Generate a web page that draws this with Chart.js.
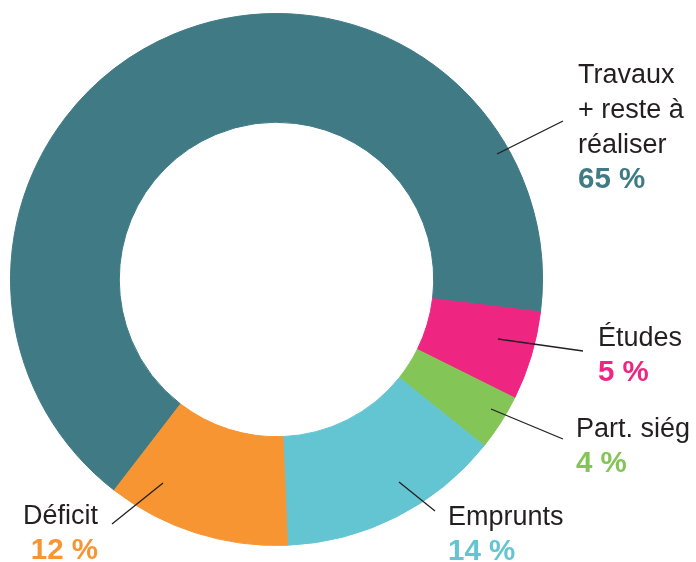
<!DOCTYPE html>
<html lang="fr">
<head>
    <meta charset="UTF-8">
    <title>Répartition du financement</title>
    <script src="https://cdn.jsdelivr.net/npm/chart.js"></script>
    <style>
        html, body { margin: 0; padding: 0; background: #fff; }
        .chart-wrapper { width: 696px; height: 562px; }
    </style>
</head>
<body>
    <div class="chart-wrapper">
        <canvas id="donutChart" width="696" height="562"></canvas>
    </div>

    <script>
        // données
        const categories = ['Travaux + reste à réaliser', 'Études', 'Part. siég', 'Emprunts', 'Déficit'];
        const shares = [66.5, 5.4, 3.4, 13.6, 11.1];
        const shareLabels = ['65 %', '5 %', '4 %', '14 %', '12 %'];
        const colors = ['#3f7a85', '#ee2682', '#84c557', '#63c5d2', '#f79532'];

        // étiquettes avec traits de rappel
        const labelLayout = [
            { lines: ['Travaux', '+ reste à', 'réaliser'], x: 578, y: 83, align: 'left', from: [497, 154], to: [563, 121] },
            { lines: ['Études'], x: 598, y: 346, align: 'left', from: [498, 339], to: [583, 351] },
            { lines: ['Part. siég'], x: 576, y: 437, align: 'left', from: [491, 409], to: [563, 439] },
            { lines: ['Emprunts'], x: 448, y: 525, align: 'left', from: [399, 482], to: [435, 511] },
            { lines: ['Déficit'], x: 98, y: 524, align: 'right', from: [163, 483], to: [112, 524] }
        ];
        const lineHeight = 35;

        const calloutPlugin = {
            id: 'callouts',
            afterDraw(chart) {
                const ctx = chart.ctx;
                ctx.save();
                labelLayout.forEach((l, i) => {
                    ctx.strokeStyle = '#231f20';
                    ctx.lineWidth = 1.3;
                    ctx.beginPath();
                    ctx.moveTo(l.from[0], l.from[1]);
                    ctx.lineTo(l.to[0], l.to[1]);
                    ctx.stroke();

                    ctx.textAlign = l.align;
                    ctx.textBaseline = 'alphabetic';
                    ctx.fillStyle = '#231f20';
                    ctx.font = '27px "Liberation Sans", Arial, sans-serif';
                    l.lines.forEach((t, k) => ctx.fillText(t, l.x, l.y + k * lineHeight));
                    ctx.fillStyle = colors[i];
                    ctx.font = 'bold 29.5px "Liberation Sans", Arial, sans-serif';
                    ctx.fillText(shareLabels[i], l.x, l.y + l.lines.length * lineHeight);
                });
                ctx.restore();
            }
        };

        new Chart(document.getElementById('donutChart'), {
            type: 'doughnut',
            data: {
                labels: categories,
                datasets: [{
                    data: shares,
                    backgroundColor: colors,
                    borderColor: colors,
                    borderWidth: 1
                }]
            },
            options: {
                responsive: false,
                animation: false,
                rotation: 217.6,
                cutout: '59.1%',
                layout: { padding: { left: 10, top: 13, right: 153, bottom: 16 } },
                plugins: {
                    legend: { display: false },
                    tooltip: { enabled: false }
                }
            },
            plugins: [calloutPlugin]
        });
    </script>
</body>
</html>
